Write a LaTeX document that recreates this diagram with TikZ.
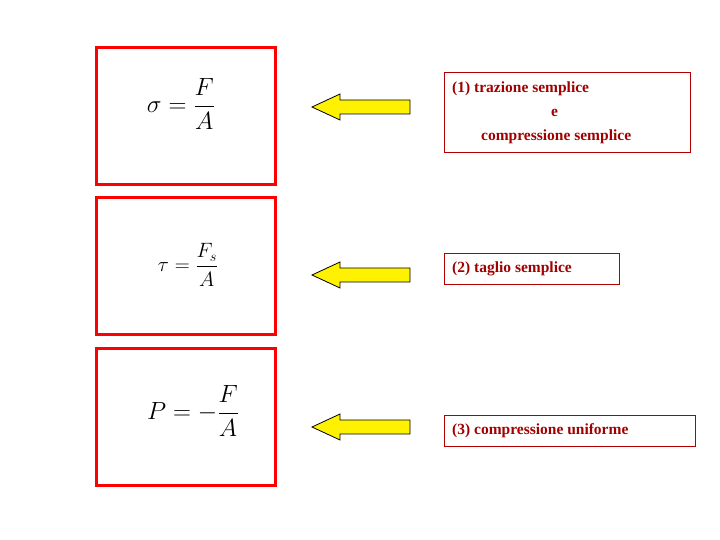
\documentclass[tikz,border=0pt]{standalone}
\usepackage{amsmath}
\usepackage{fontspec}
\setmainfont{Liberation Serif}
\definecolor{dred}{RGB}{160,0,0}
\begin{document}
\begin{tikzpicture}[x=1pt,y=-1pt,
  redbox/.style={draw=red,line width=3pt,minimum width=179pt,minimum height=137pt,inner sep=0},
  yarrow/.style={draw=black,fill=yellow,line width=0.8pt,line join=miter},
  frame/.style={draw=red!70!black,line width=0.5pt,inner sep=0},
  lbl/.style={text=dred,font=\bfseries\fontsize{15.5}{24}\selectfont,anchor=west,inner sep=0,align=left}]
\useasboundingbox (0,0) rectangle (720,540);
\node[redbox] (b1) at (185.5,116.5) {};
\node[redbox] (b2) at (185.5,266) {};
\node[redbox] (b3) at (185.5,416.5) {};
\node (f1) at (181,104) {\fontsize{33}{38}\selectfont$\sigma=\dfrac{F}{A}$};
\node (f2) at (188,265) {\fontsize{22}{26}\selectfont$\tau=\dfrac{F_s}{A}$};
\node (f3) at (193,411) {\fontsize{31}{36}\selectfont$P=-\dfrac{F}{A}$};
\foreach \n/\y in {a1/107,a2/275,a3/427}{
  \coordinate (\n) at (361,\y);
  \draw[yarrow] (410,\y-7) -- (340,\y-7) -- (340,\y-13) -- (312,\y) -- (340,\y+13) -- (340,\y+7) -- (410,\y+7) -- cycle;
}
\node[frame,minimum width=246pt,minimum height=80pt,anchor=north west] (t1) at (444,72) {};
\node[lbl] (t1a) at (452,89) {(1) trazione semplice};
\node[lbl] (t1b) at (551,113) {e};
\node[lbl] (t1c) at (481,137) {compressione semplice};
\node[frame,minimum width=175pt,minimum height=31pt,anchor=north west] (t2) at (444,253) {};
\node[lbl] (t2a) at (452,269) {(2) taglio semplice};
\node[frame,minimum width=251pt,minimum height=31pt,anchor=north west] (t3) at (444,415) {};
\node[lbl] (t3a) at (452,431) {(3) compressione uniforme};
\end{tikzpicture}
\end{document}
